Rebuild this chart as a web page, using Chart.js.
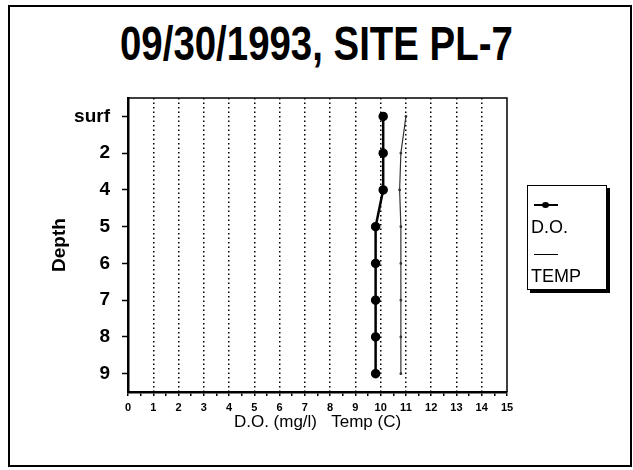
<!DOCTYPE html>
<html lang="en">
<head>
    <meta charset="UTF-8">
    <title>09/30/1993, SITE PL-7</title>
    <style>
        body {
            margin: 0;
            background: #fff;
            font-family: "Liberation Sans", Arial, sans-serif;
        }
        #frame {
            position: absolute;
            left: 8px;
            top: 5px;
            width: 620px;
            height: 458px;
            border: 2px solid #000;
        }
        #title {
            position: absolute;
            left: 0;
            top: 16px;
            width: 633px;
            text-align: center;
            font-size: 48px;
            font-weight: bold;
            transform: scaleX(0.8);
            transform-origin: 316px 0;
            white-space: nowrap;
        }
        #chart-box {
            position: absolute;
            left: 0;
            top: 0;
            width: 633px;
            height: 470px;
        }
        #legend {
            position: absolute;
            left: 527px;
            top: 185px;
            width: 78px;
            height: 103px;
            border: 1.5px solid #000;
            box-shadow: 3px 3px 0 #000;
            background: #fff;
            font-size: 18px;
        }
        .sample {
            position: relative;
            margin: 18px 0 0 6px;
            width: 24px;
            height: 0;
            border-top: 2px solid #000;
        }
        .sample .dot {
            position: absolute;
            left: 8px;
            top: -4px;
            width: 7px;
            height: 6px;
            border-radius: 50%;
            background: #000;
        }
        .name {
            margin: 12px 0 0 3px;
            line-height: 18px;
        }
    </style>
    <script src="https://cdn.jsdelivr.net/npm/chart.js"></script>
</head>
<body>
    <div id="frame"></div>
    <div id="title">09/30/1993, SITE PL-7</div>
    <div id="chart-box"><canvas id="profileChart" width="633" height="470"></canvas></div>
    <div id="legend"></div>

    <script>
        // depth categories (top to bottom) and the two profiles
        let depthLabels = ['surf', '2', '4', '5', '6', '7', '8', '9'];
        let doValues = [10.1, 10.1, 10.1, 9.8, 9.8, 9.8, 9.8, 9.8];
        let tempValues = [11.0, 10.8, 10.75, 10.8, 10.8, 10.8, 10.8, 10.8];
        let xTickLabels = ['0', '1', '2', '3', '4', '5', '6', '7', '8', '9', '10', '11', '12', '13', '14', '15'];

        // thin frame on top and right of the plot area
        let plotFrame = {
            id: 'plotFrame',
            afterDraw(chart) {
                let a = chart.chartArea;
                let ctx = chart.ctx;
                ctx.save();
                ctx.strokeStyle = '#000';
                ctx.lineWidth = 1.5;
                ctx.setLineDash([]);
                ctx.beginPath();
                ctx.moveTo(a.left, a.top);
                ctx.lineTo(a.right, a.top);
                ctx.lineTo(a.right, a.bottom);
                ctx.stroke();
                ctx.restore();
            }
        };

        Chart.defaults.font.family = '"Liberation Sans", Arial, sans-serif';
        Chart.defaults.color = '#000';

        let ctx = document.getElementById('profileChart').getContext('2d');
        let profileChart = new Chart(ctx, {
            type: 'line',
            data: {
                labels: depthLabels,
                datasets: [{
                    label: 'D.O.',
                    data: doValues,
                    borderColor: '#000',
                    backgroundColor: '#000',
                    borderWidth: 2.5,
                    pointRadius: 3.5,
                    pointHoverRadius: 3.5,
                    tension: 0
                }, {
                    label: 'TEMP',
                    data: tempValues,
                    borderColor: '#333',
                    backgroundColor: '#333',
                    borderWidth: 1.2,
                    pointRadius: 0.8,
                    tension: 0
                }]
            },
            options: {
                indexAxis: 'y',
                responsive: false,
                animation: false,
                layout: {
                    padding: { left: 44, top: 98, right: 126, bottom: 37 }
                },
                plugins: {
                    legend: { display: false },
                    tooltip: { enabled: false }
                },
                scales: {
                    x: {
                        type: 'linear',
                        min: 0,
                        max: 15,
                        afterFit: scale => { scale.height = 41; },
                        afterBuildTicks: scale => {
                            let t = [];
                            for (let i = 0; i <= 30; i++) t.push({ value: i / 2 });
                            scale.ticks = t;
                        },
                        ticks: {
                            autoSkip: false,
                            maxRotation: 0,
                            padding: 5,
                            font: { size: 11, weight: 'bold' },
                            callback: v => Number.isInteger(v) ? xTickLabels[v] : ''
                        },
                        grid: {
                            color: c => (Number.isInteger(c.tick.value) && c.tick.value > 0 && c.tick.value < 15) ? '#000' : 'rgba(0,0,0,0)',
                            lineWidth: 1.5,
                            tickColor: '#000',
                            tickLength: 4,
                            tickWidth: 1.5,
                            tickBorderDash: []
                        },
                        border: { color: '#000', width: 2.5, dash: [1.5, 3] },
                        title: {
                            display: true,
                            text: 'D.O. (mg/l)   Temp (C)',
                            font: { size: 17 },
                            padding: { top: 0, bottom: 0 }
                        }
                    },
                    y: {
                        type: 'category',
                        offset: true,
                        afterFit: scale => { scale.width = 84; },
                        ticks: {
                            padding: 12,
                            font: { size: 19, weight: 'bold' }
                        },
                        grid: {
                            drawOnChartArea: false,
                            tickColor: '#000',
                            tickLength: 6,
                            tickWidth: 1.5
                        },
                        border: { color: '#000', width: 2.5 },
                        title: {
                            display: true,
                            text: 'Depth',
                            font: { size: 19, weight: 'bold' },
                            padding: { bottom: 2 }
                        }
                    }
                }
            },
            plugins: [plotFrame]
        });

        // legend: sample line above each name
        let legend = document.getElementById('legend');
        profileChart.data.datasets.forEach((ds, i) => {
            let s = document.createElement('div');
            s.className = 'sample';
            s.style.borderTopWidth = ds.borderWidth > 1.5 ? '2px' : '1px';
            if (i === 0) {
                let d = document.createElement('div');
                d.className = 'dot';
                s.appendChild(d);
            }
            legend.appendChild(s);
            let n = document.createElement('div');
            n.className = 'name';
            n.textContent = ds.label;
            legend.appendChild(n);
        });
    </script>
</body>
</html>
